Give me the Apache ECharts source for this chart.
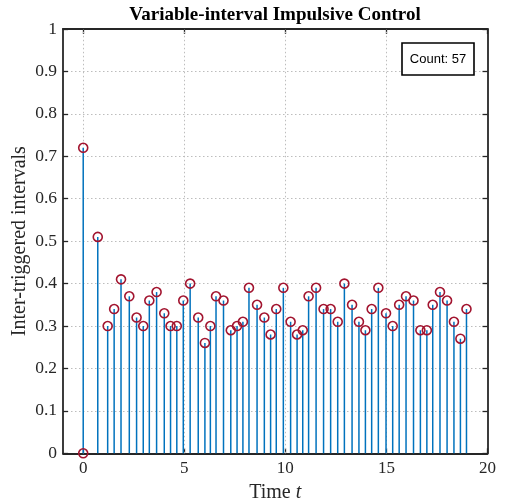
<!DOCTYPE html>
<html>
<head>
<meta charset="utf-8">
<script src="https://cdn.jsdelivr.net/npm/echarts@6/dist/echarts.min.js"></script>
<style>html,body{margin:0;padding:0;background:#fff;}#c{width:508px;height:503px;}</style>
</head>
<body>
<div id="c"></div>
<script>
const times = [0, 0, 0.72, 1.21, 1.53, 1.87, 2.28, 2.64, 2.97, 3.27, 3.63, 4.01, 4.32, 4.63, 4.95, 5.29, 5.69, 6.02, 6.29, 6.57, 6.94, 7.30, 7.61, 7.90, 8.20, 8.60, 8.96, 9.27, 9.55, 9.90, 10.26, 10.58, 10.86, 11.15, 11.52, 11.89, 12.24, 12.59, 12.92, 13.30, 13.64, 13.96, 14.27, 14.60, 14.98, 15.31, 15.63, 15.97, 16.34, 16.68, 17.00, 17.29, 17.65, 18.00, 18.34, 18.66, 18.96];
const intervals = [0, 0.72, 0.51, 0.30, 0.34, 0.41, 0.37, 0.32, 0.30, 0.36, 0.38, 0.33, 0.30, 0.30, 0.36, 0.40, 0.32, 0.26, 0.30, 0.37, 0.36, 0.29, 0.30, 0.31, 0.39, 0.35, 0.32, 0.28, 0.34, 0.39, 0.31, 0.28, 0.29, 0.37, 0.39, 0.34, 0.34, 0.31, 0.40, 0.35, 0.31, 0.29, 0.34, 0.39, 0.33, 0.30, 0.35, 0.37, 0.36, 0.29, 0.29, 0.35, 0.38, 0.36, 0.31, 0.27, 0.34];
const xTicks = [0, 5, 10, 15, 20];
const xRange = [-1, 20];
const yRange = [0, 1];
const yStep = 0.1;
const titleText = 'Variable-interval Impulsive Control';
const xName = 'Time {i|t}';
const yName = 'Inter-triggered intervals';

const points = times.map((t, i) => [t, intervals[i]]);
const serif = '"Liberation Serif", "DejaVu Serif", serif';
const axisCol = '#262626';
const gridCol = '#bdbdbd';

const chart = echarts.init(document.getElementById('c'), null, {renderer: 'canvas'});

const baseX = {
  type: 'value', min: xRange[0], max: xRange[1],
  axisLine: {show: true, onZero: false, lineStyle: {color: axisCol, width: 1.8}},
  axisTick: {show: true, inside: true, length: 5, customValues: xTicks, lineStyle: {color: axisCol, width: 1.3}},
  splitLine: {show: false}
};
const baseY = {
  type: 'value', min: yRange[0], max: yRange[1], interval: yStep,
  axisLine: {show: true, onZero: false, lineStyle: {color: axisCol, width: 1.8}},
  axisTick: {show: true, inside: true, length: 5, lineStyle: {color: axisCol, width: 1.3}}
};

chart.setOption({
  animation: false,
  backgroundColor: '#fff',
  grid: {left: 63, right: 20.5, top: 29, bottom: 49.7, containLabel: false, outerBoundsMode: 'none'},
  xAxis: [
    Object.assign({}, baseX, {
      position: 'bottom',
      axisLabel: {show: true, customValues: xTicks, margin: 7, color: axisCol, fontFamily: serif, fontSize: 17},
      name: xName, nameLocation: 'middle', nameGap: 29, nameMoveOverlap: false,
      nameTextStyle: {color: axisCol, fontFamily: serif, fontSize: 20,
        rich: {i: {fontStyle: 'italic', fontFamily: serif, fontSize: 20, color: axisCol}}}
    }),
    Object.assign({}, baseX, {position: 'top', axisLabel: {show: false}})
  ],
  yAxis: [
    Object.assign({}, baseY, {
      position: 'left',
      axisLabel: {show: true, margin: 6, color: axisCol, fontFamily: serif, fontSize: 17.5},
      splitLine: {show: true, lineStyle: {color: gridCol, type: [1.5, 2.5], width: 1}},
      name: yName, nameLocation: 'middle', nameGap: 33, nameMoveOverlap: false,
      nameTextStyle: {color: axisCol, fontFamily: serif, fontSize: 20}
    }),
    Object.assign({}, baseY, {position: 'right', axisLabel: {show: false}, splitLine: {show: false}})
  ],
  series: [
    {
      type: 'custom',
      xAxisIndex: 0, yAxisIndex: 0,
      data: points,
      z: 2,
      renderItem: function (params, api) {
        const top = api.coord([api.value(0), api.value(1)]);
        const base = api.coord([api.value(0), 0]);
        return {type: 'line', shape: {x1: base[0], y1: base[1], x2: top[0], y2: top[1]},
          style: {stroke: '#0072BD', lineWidth: 1.5}};
      },
      markLine: {
        silent: true, symbol: 'none', label: {show: false},
        lineStyle: {color: gridCol, type: [1.5, 2.5], width: 1},
        data: xTicks.filter(v => v < xRange[1]).map(v => ({xAxis: v})),
        z: 1
      }
    },
    {
      type: 'scatter',
      xAxisIndex: 0, yAxisIndex: 0,
      data: points,
      symbol: 'circle', symbolSize: 9,
      z: 3,
      itemStyle: {color: 'rgba(0,0,0,0)', borderColor: '#A2142F', borderWidth: 1.6, opacity: 1}
    }
  ],
  graphic: [
    {type: 'text', x: 275, y: 15.5, z: 10,
      style: {text: titleText, font: 'bold 19px ' + serif, fill: '#000', textAlign: 'center', textVerticalAlign: 'middle', align: 'center', verticalAlign: 'middle'}},
    {type: 'rect', shape: {x: 402, y: 43, width: 72, height: 32}, z: 10,
      style: {fill: '#fff', stroke: '#000', lineWidth: 1.6}},
    {type: 'text', x: 438, y: 59.5, z: 11,
      style: {text: 'Count: ' + times.length, font: '13px "Liberation Sans", Arial, sans-serif', fill: '#000', textAlign: 'center', textVerticalAlign: 'middle', align: 'center', verticalAlign: 'middle'}}
  ]
});
</script>
</body>
</html>
